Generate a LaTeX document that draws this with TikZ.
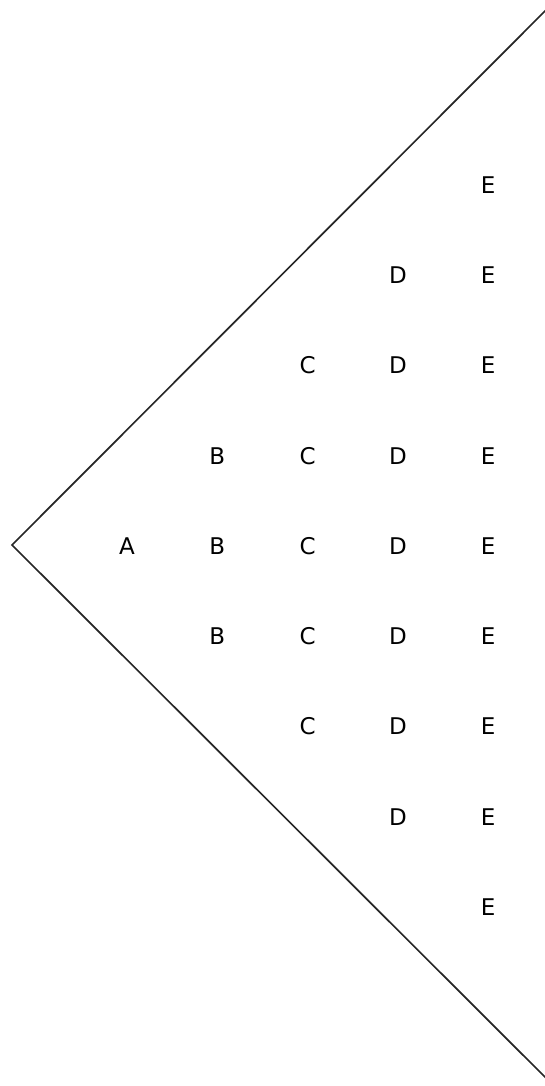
\documentclass[tikz,border=0pt]{standalone}
\usepackage{fontspec}
\setmainfont{DejaVu Sans}
\usetikzlibrary{positioning}
\tikzset{
  stage/.style={
    inner sep=0pt,
    font=\fontsize{23}{27}\selectfont
  },
  edge/.style={
    line width=1.7pt,
    draw=black!85
  }
}
\begin{document}
\begin{tikzpicture}[x=1pt,y=-1pt]
  \useasboundingbox (0,0) rectangle (545,1086);
  \coordinate (apex) at (12,545);
  \coordinate (top) at (546,10);
  \coordinate (bottom) at (546,1078);
  \draw[edge] (top) -- (apex) -- (bottom);
  \foreach \lbl [count=\i from 0] in {A,B,C,D,E} {
    \foreach \j in {-\i,...,\i} {
      \node[stage] (\lbl\i\j) at ({127+90.3*\i},{546+90.3*\j}) {\lbl};
    }
  }
\end{tikzpicture}
\end{document}
